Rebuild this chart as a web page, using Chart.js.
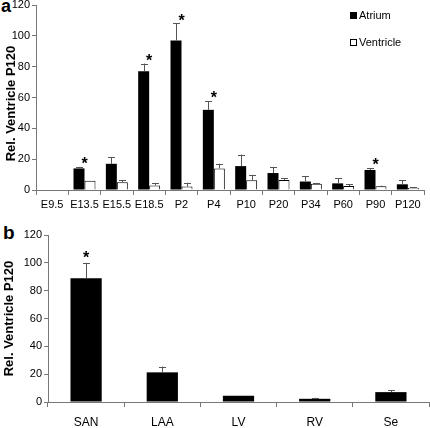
<!DOCTYPE html>
<html>
<head>
<meta charset="utf-8">
<script src="https://cdn.jsdelivr.net/npm/chart.js@4"></script>
<style>
  body { margin: 0; background: #fff; width: 430px; height: 428px; position: relative; overflow: hidden; }
  canvas { position: absolute; left: 0; }
  .panel { position: absolute; font-family: Arial, 'Liberation Sans', sans-serif; font-weight: bold; color: #000; }
</style>
</head>
<body>
<div class="panel" style="left:1px;top:-4px;font-size:18px;">a</div>
<div class="panel" style="left:3px;top:222px;font-size:19px;">b</div>
<canvas id="chartA" width="430" height="215" style="top:0"></canvas>
<canvas id="chartB" width="430" height="216" style="top:212px"></canvas>
<script>
/* global Chart */

// Panel a: developmental time course
const stages = ['E9.5', 'E13.5', 'E15.5', 'E18.5', 'P2', 'P4', 'P10', 'P20', 'P34', 'P60', 'P90', 'P120'];
const atrium = [0, 14, 17, 77, 97, 52, 15.5, 11, 5.5, 4.3, 13, 3.7];
const atriumErr = [0, 1, 4.5, 5, 11, 5.5, 7.5, 4, 3.5, 3.3, 1, 2.8];
const ventricle = [0, 6, 5, 3, 2.2, 14, 6.3, 6.5, 4, 2.6, 2.5, 1.5];
const ventricleErr = [0, 0, 1.5, 1.5, 2.5, 3, 3.5, 1.3, 0.5, 1, 0.3, 0.3];
const stageSig = [false, true, false, true, true, true, false, false, false, false, true, false];

// Panel b: adult regions
const regions = ['SAN', 'LAA', 'LV', 'RV', 'Se'];
const regionVals = [89, 21.3, 4.5, 2.3, 7.1];
const regionErr = [11, 4.2, 0, 0.7, 1.4];
const regionSig = [true, false, false, false, false];

const yTicks = { min: 0, max: 120, step: 20 };
const yTitle = 'Rel. Ventricle P120';
const FONT = "Arial, 'Liberation Sans', sans-serif";

// error bars (upper only) + significance stars
const errorBarPlugin = {
    id: 'errorBars',
    afterDatasetsDraw(chart, args, opts) {
        const ctx = chart.ctx;
        const yScale = chart.scales.y;
        const tops = [];
        ctx.save();
        ctx.strokeStyle = '#555';
        ctx.lineWidth = 1;
        chart.data.datasets.forEach((ds, di) => {
            const meta = chart.getDatasetMeta(di);
            meta.data.forEach((bar, i) => {
                const err = ds.errors[i];
                const topY = yScale.getPixelForValue(ds.data[i] + err);
                tops[i] = Math.min(tops[i] === undefined ? Infinity : tops[i], topY);
                if (!err) return;
                const x = Math.round(bar.x) + 0.5;
                ctx.beginPath();
                ctx.moveTo(x, bar.y);
                ctx.lineTo(x, topY);
                ctx.moveTo(x - 3.5, Math.round(topY) + 0.5);
                ctx.lineTo(x + 3.5, Math.round(topY) + 0.5);
                ctx.stroke();
            });
        });
        // stars centred over the category
        ctx.fillStyle = '#000';
        ctx.font = 'bold 16px ' + FONT;
        ctx.textAlign = 'center';
        ctx.textBaseline = 'alphabetic';
        const xScale = chart.scales.x;
        opts.sig.forEach((s, i) => {
            if (!s) return;
            const cx = xScale.getPixelForValue(i);
            ctx.fillText('*', cx, tops[i] - opts.gap + 11);
        });
        ctx.restore();
    }
};

// stacked legend in the top right of panel a
const boxLegendPlugin = {
    id: 'boxLegend',
    afterDraw(chart, args, opts) {
        if (!opts.show) return;
        const ctx = chart.ctx;
        ctx.save();
        ctx.font = '11px ' + FONT;
        ctx.textBaseline = 'middle';
        ctx.textAlign = 'left';
        chart.data.datasets.forEach((ds, i) => {
            const y = opts.top + i * 27;
            ctx.fillStyle = ds.backgroundColor;
            ctx.fillRect(opts.left, y - 3, 7, 7);
            ctx.strokeStyle = '#000';
            ctx.lineWidth = 1;
            ctx.strokeRect(opts.left + 0.5, y - 2.5, 6, 6);
            ctx.fillStyle = '#000';
            ctx.fillText(ds.label, opts.left + 9, y + 1);
        });
        ctx.restore();
    }
};

// rotated y title, placed by hand so it clears the tick labels
const yTitlePlugin = {
    id: 'yTitle',
    afterDraw(chart, args, opts) {
        const ctx = chart.ctx;
        const area = chart.chartArea;
        ctx.save();
        ctx.translate(opts.x, (area.top + area.bottom) / 2 + opts.shift);
        ctx.rotate(-Math.PI / 2);
        ctx.font = 'bold 13px ' + FONT;
        ctx.fillStyle = '#000';
        ctx.textAlign = 'center';
        ctx.textBaseline = 'middle';
        ctx.fillText(yTitle, 0, 0);
        ctx.restore();
    }
};

function yAxis(width) {
    return {
        min: yTicks.min,
        max: yTicks.max,
        ticks: { stepSize: yTicks.step, color: '#000', font: { size: 11, family: FONT }, padding: 2 },
        grid: { display: true, drawOnChartArea: false, drawTicks: true, tickLength: 4, color: '#777' },
        border: { display: true, color: '#777' },
        afterFit(scale) {
            scale.width = width;
            scale.paddingTop = 0;
            scale.paddingBottom = 0;
        }
    };
}

function xAxis(height, fontSize, pad) {
    return {
        ticks: { color: '#000', font: { size: fontSize, family: FONT }, padding: pad, autoSkip: false, maxRotation: 0 },
        grid: { display: true, drawOnChartArea: false, drawTicks: true, tickLength: 5, color: '#777', offset: true },
        border: { display: true, color: '#777' },
        afterFit(scale) {
            scale.height = height;
            scale.paddingLeft = 0;
            scale.paddingRight = 0;
        }
    };
}

const chartA = new Chart(document.getElementById('chartA'), {
    type: 'bar',
    data: {
        labels: stages,
        datasets: [
            { label: 'Atrium', data: atrium, errors: atriumErr, backgroundColor: '#000', borderColor: '#000', borderWidth: 0 },
            { label: 'Ventricle', data: ventricle, errors: ventricleErr, backgroundColor: '#fff', borderColor: '#000', borderWidth: 1 }
        ]
    },
    options: {
        responsive: false,
        animation: false,
        layout: { padding: { top: 5, right: 6, left: 0, bottom: 0 } },
        datasets: { bar: { categoryPercentage: 0.68, barPercentage: 1 } },
        scales: { x: xAxis(25, 11, 3), y: yAxis(36) },
        plugins: {
            legend: { display: false },
            tooltip: { enabled: false },
            errorBars: { sig: stageSig, gap: 9 },
            boxLegend: { show: true, left: 350, top: 15 },
            yTitle: { x: 11, shift: 6 }
        }
    },
    plugins: [errorBarPlugin, boxLegendPlugin, yTitlePlugin]
});

const chartB = new Chart(document.getElementById('chartB'), {
    type: 'bar',
    data: {
        labels: regions,
        datasets: [
            { label: 'Region', data: regionVals, errors: regionErr, backgroundColor: '#000', borderColor: '#000', borderWidth: 0 }
        ]
    },
    options: {
        responsive: false,
        animation: false,
        layout: { padding: { top: 23, right: 1, left: 0, bottom: 0 } },
        datasets: { bar: { categoryPercentage: 0.41, barPercentage: 1 } },
        scales: { x: xAxis(26, 12, 8), y: yAxis(48) },
        plugins: {
            legend: { display: false },
            tooltip: { enabled: false },
            errorBars: { sig: regionSig, gap: 11 },
            boxLegend: { show: false },
            yTitle: { x: 9, shift: 0 }
        }
    },
    plugins: [errorBarPlugin, boxLegendPlugin, yTitlePlugin]
});
</script>
</body>
</html>
